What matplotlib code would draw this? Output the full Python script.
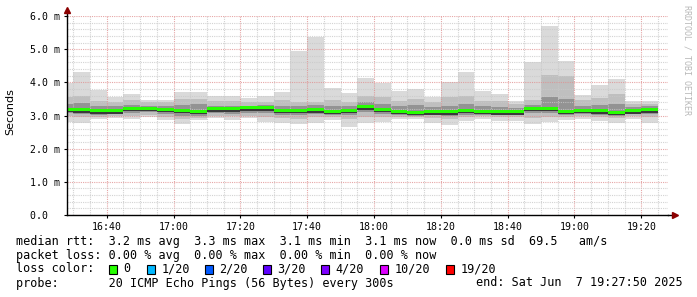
import matplotlib
matplotlib.use("Agg")
import matplotlib.pyplot as plt
from matplotlib.patches import Rectangle
from matplotlib.ticker import MultipleLocator

# 5 minute buckets (start time), values in ms
slots = ["16:25", "16:30", "16:35", "16:40", "16:45", "16:50", "16:55", "17:00", "17:05",
         "17:10", "17:15", "17:20", "17:25", "17:30", "17:35", "17:40", "17:45", "17:50",
         "17:55", "18:00", "18:05", "18:10", "18:15", "18:20", "18:25", "18:30", "18:35",
         "18:40", "18:45", "18:50", "18:55", "19:00", "19:05", "19:10", "19:15", "19:20"]
rtt_max = [3.99, 4.32, 3.78, 3.55, 3.64, 3.47, 3.47, 3.70, 3.70, 3.59, 3.59, 3.53, 3.59,
           3.71, 4.95, 5.37, 3.82, 3.68, 4.12, 3.99, 3.73, 3.80, 3.56, 4.02, 4.32, 3.74,
           3.64, 3.44, 4.61, 5.69, 4.63, 3.63, 3.92, 4.09, 3.43, 3.43]
rtt_p90 = [3.55, 3.60, 3.45, 3.42, 3.48, 3.40, 3.40, 3.50, 3.50, 3.45, 3.44, 3.40, 3.42,
           3.48, 3.42, 3.40, 3.48, 3.42, 3.58, 3.55, 3.45, 3.50, 3.42, 3.55, 3.60, 3.45,
           3.45, 3.35, 3.46, 4.22, 4.20, 3.48, 3.52, 3.65, 3.35, 3.35]
rtt_p75 = [3.35, 3.38, 3.30, 3.28, 3.32, 3.28, 3.28, 3.32, 3.34, 3.30, 3.30, 3.30, 3.32,
           3.30, 3.30, 3.32, 3.30, 3.28, 3.40, 3.35, 3.30, 3.32, 3.26, 3.30, 3.36, 3.28,
           3.26, 3.24, 3.32, 3.55, 3.50, 3.30, 3.32, 3.35, 3.25, 3.28]
rtt_med = [3.18, 3.16, 3.13, 3.13, 3.20, 3.20, 3.17, 3.15, 3.11, 3.19, 3.19, 3.22, 3.22,
           3.15, 3.15, 3.16, 3.11, 3.14, 3.25, 3.18, 3.11, 3.08, 3.10, 3.10, 3.14, 3.11,
           3.10, 3.10, 3.21, 3.21, 3.12, 3.14, 3.13, 3.09, 3.13, 3.16]
rtt_p25 = [3.08, 3.05, 3.02, 3.04, 3.08, 3.10, 3.06, 3.00, 3.00, 3.08, 3.06, 3.08, 3.08,
           3.03, 3.02, 3.05, 3.02, 3.02, 3.10, 3.05, 3.02, 3.00, 3.02, 3.00, 3.02, 3.02,
           3.02, 3.02, 3.08, 3.08, 3.02, 3.04, 3.02, 3.00, 3.04, 3.04]
rtt_p10 = [2.98, 2.95, 2.95, 2.98, 2.98, 3.02, 2.96, 2.88, 2.92, 3.00, 2.98, 3.00, 2.96,
           2.92, 2.90, 2.94, 2.94, 2.88, 2.96, 2.95, 2.96, 2.94, 2.92, 2.88, 2.95, 2.97,
           2.95, 2.95, 2.92, 2.96, 2.96, 2.97, 2.95, 2.92, 2.98, 2.94]
rtt_min = [2.81, 2.78, 2.88, 2.91, 2.88, 2.94, 2.85, 2.74, 2.85, 2.91, 2.87, 2.91, 2.81,
           2.78, 2.74, 2.76, 2.86, 2.66, 2.78, 2.81, 2.88, 2.88, 2.78, 2.71, 2.84, 2.89,
           2.84, 2.84, 2.74, 2.81, 2.86, 2.88, 2.84, 2.78, 2.88, 2.78]

x_ticks = ["16:40", "17:00", "17:20", "17:40", "18:00", "18:20", "18:40", "19:00", "19:20"]
y_ticks = [0, 1, 2, 3, 4, 5, 6]
y_labels = ["0.0  ", "1.0 m", "2.0 m", "3.0 m", "4.0 m", "5.0 m", "6.0 m"]

loss_labels = ["0", "1/20", "2/20", "3/20", "4/20", "10/20", "19/20"]
loss_colors = ["#26ff00", "#00b8ff", "#0059ff", "#5e00ff", "#7e00ff", "#dd00ff", "#ff0000"]


def to_min(s):
    h, m = s.split(":")
    return (int(h) - 16) * 60 + int(m)


xs = [to_min(s) for s in slots]

W, H = 697, 297
fig = plt.figure(figsize=(W / 100, H / 100), dpi=100)
fig.patch.set_facecolor("white")
ax_l, ax_r, ax_t, ax_b = 66.5, 668, 16, 215
ax = fig.add_axes([ax_l / W, 1 - ax_b / H, (ax_r - ax_l) / W, (ax_b - ax_t) / H])
ax.set_xlim(27.95, 208.0)
ax.set_ylim(0, 6)

# grid (drawn over the smoke, like rrdtool)
ax.xaxis.set_minor_locator(MultipleLocator(5))
ax.yaxis.set_minor_locator(MultipleLocator(0.2))
ax.set_xticks([to_min(t) for t in x_ticks])
ax.set_xticklabels(x_ticks)
ax.set_yticks(y_ticks)
ax.set_yticklabels(y_labels)
ax.grid(which="minor", color="#c8c8c8", linestyle=(0, (1, 1)), linewidth=0.8, alpha=0.8)
ax.grid(which="major", color="#e09090", linestyle=(0, (1, 1)), linewidth=0.8, alpha=0.8)
ax.set_axisbelow(False)

# smoke
ax.bar(xs, [a - b for a, b in zip(rtt_max, rtt_min)], bottom=rtt_min, width=5,
       align="edge", color="#dadada", linewidth=0, zorder=1.0)
ax.bar(xs, [a - b for a, b in zip(rtt_p90, rtt_p10)], bottom=rtt_p10, width=5,
       align="edge", color="#bfbfbf", linewidth=0, zorder=1.1)
ax.bar(xs, [a - b for a, b in zip(rtt_p75, rtt_p25)], bottom=rtt_p25, width=5,
       align="edge", color="#939393", linewidth=0, zorder=1.2)
# median (dark edge under the green), above the grid
ax.bar(xs, 0.06, bottom=[m - 0.07 for m in rtt_med], width=5, align="edge",
       color="#3a3a3a", linewidth=0, zorder=3.0)
ax.bar(xs, 0.09, bottom=[m - 0.03 for m in rtt_med], width=5, align="edge",
       color=loss_colors[0], linewidth=0, zorder=3.1)

for s in ["top", "right"]:
    ax.spines[s].set_visible(False)
for s in ["left", "bottom"]:
    ax.spines[s].set_color("black")
    ax.spines[s].set_linewidth(1)
    ax.spines[s].set_zorder(10)

mono = "DejaVu Sans Mono"
ax.tick_params(which="major", length=2, width=0.8, color="black", labelsize=7.1, pad=3)
ax.tick_params(which="minor", length=0)
for lab in ax.get_xticklabels() + ax.get_yticklabels():
    lab.set_family(mono)

# axis arrows
ax.plot([27.95, 27.95], [6, 6.15], color="black", lw=1, clip_on=False, zorder=10)
ax.plot([27.95], [6.18], marker="^", color="#8b0000", markersize=4, clip_on=False, zorder=11)
ax.plot([208.0, 209.5], [0, 0], color="black", lw=1, clip_on=False, zorder=10)
ax.plot([210.0], [0], marker=">", color="#8b0000", markersize=4, clip_on=False, zorder=11)

fig.text(10 / W, 1 - 112 / H, "Seconds", rotation=90, ha="center", va="center",
         fontsize=8, family="DejaVu Sans")
fig.text(687 / W, 1 - 5 / H, "RRDTOOL / TOBI OETIKER", rotation=270, ha="center",
         va="top", fontsize=6, family=mono, color="#b8b8b8")

fs = 8.45
fig.text(16 / W, 1 - 241 / H,
         "median rtt:  3.2 ms avg  3.3 ms max  3.1 ms min  3.1 ms now  0.0 ms sd  69.5   am/s",
         family=mono, fontsize=fs, va="center")
fig.text(16 / W, 1 - 255 / H,
         "packet loss: 0.00 % avg  0.00 % max  0.00 % min  0.00 % now",
         family=mono, fontsize=fs, va="center")
fig.text(16 / W, 1 - 269 / H, "loss color:", family=mono, fontsize=fs, va="center")
box_x = [108.5, 146.5, 204.5, 262.5, 320.5, 379.5, 445.5]
for bx, lab, col in zip(box_x, loss_labels, loss_colors):
    fig.patches.append(Rectangle((bx / W, 1 - 273.5 / H), 8.5 / W, 9 / H,
                                 transform=fig.transFigure, facecolor=col,
                                 edgecolor="black", linewidth=0.8))
    fig.text((bx + 15) / W, 1 - 269 / H, lab, family=mono, fontsize=fs, va="center")
fig.text(16 / W, 1 - 283 / H,
         "probe:       20 ICMP Echo Pings (56 Bytes) every 300s",
         family=mono, fontsize=fs, va="center")
fig.text(683 / W, 1 - 283 / H, "end: Sat Jun  7 19:27:50 2025",
         family=mono, fontsize=fs, va="center", ha="right")

fig.savefig("out.png", dpi=100)
